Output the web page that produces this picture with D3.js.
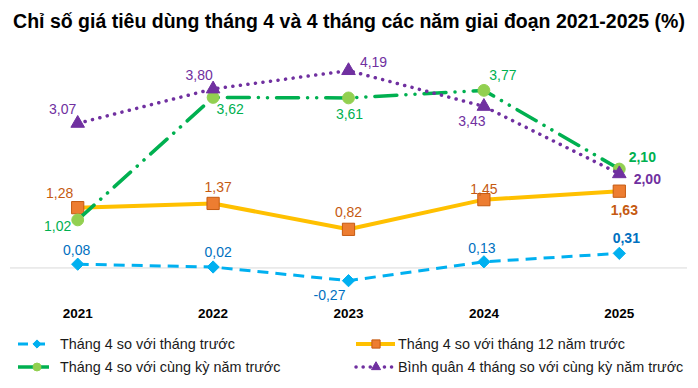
<!DOCTYPE html>
<html>
<head>
<meta charset="utf-8">
<script src="https://cdn.jsdelivr.net/npm/d3@7"></script>
<style>
  body { margin: 0; background: #fff; }
  svg { display: block; font-family: Arial, "Liberation Sans", sans-serif; }
</style>
</head>
<body>
<div id="chart"></div>
<script>
// data
const years = ["2021", "2022", "2023", "2024", "2025"];
const soThangTruoc = [0.08, 0.02, -0.27, 0.13, 0.31];
const soThang12 = [1.28, 1.37, 0.82, 1.45, 1.63];
const soCungKy = [1.02, 3.62, 3.61, 3.77, 2.10];
const binhQuan4Thang = [3.07, 3.80, 4.19, 3.43, 2.00];

const width = 698, height = 388;

// diamond as a square turned 45 degrees (d3's diamond is too narrow)
const diamond = {
  draw(context, size) {
    const r = Math.sqrt(size / 2);
    context.moveTo(0, -r);
    context.lineTo(r, 0);
    context.lineTo(0, r);
    context.lineTo(-r, 0);
    context.closePath();
  }
};

const series = [
  {name: "Tháng 4 so với tháng trước", values: soThangTruoc, line: "#00b0f0", width: 3,
   dash: "11 7", cap: "butt", marker: diamond, fill: "#00b0f0", stroke: "#00b0f0", size: 75,
   label: "#0070c0", offs: [[-1,-14],[5,-15],[-19,14],[-2,-14],[7,-15]]},
  {name: "Tháng 4 so với tháng 12 năm trước", values: soThang12, line: "#ffc000", width: 4,
   dash: null, cap: "round", marker: d3.symbolSquare, fill: "#ed7d31", stroke: "#c55a11", size: 150,
   label: "#c55a11", offs: [[-18,-15],[5,-16],[0,-17],[0,-11],[5,19]]},
  {name: "Tháng 4 so với cùng kỳ năm trước", values: soCungKy, line: "#00b050", width: 3.5,
   dash: "22 9 0.1 9 0.1 9", cap: "round", marker: d3.symbolCircle, fill: "#92d050", stroke: "#92d050", size: 110,
   label: "#00b050", offs: [[-20,6],[17,12],[1,16],[19,-15],[23,-12]]},
  {name: "Bình quân 4 tháng so với cùng kỳ năm trước", values: binhQuan4Thang, line: "#7030a0", width: 3.5,
   dash: "0.1 7.5", cap: "round", marker: d3.symbolTriangle, fill: "#7030a0", stroke: "#7030a0", size: 80,
   label: "#7030a0", offs: [[-15,-14],[-14,-14],[25,-9],[-12,15],[28,5]]}
];

const x = d3.scalePoint().domain(years).range([10, 687]).padding(0.5);
const y = d3.scaleLinear().domain([-0.5, 4.5]).range([291.5, 56]);

const fmt = v => d3.format(".2f")(v).replace(".", ",").replace("−", "-");

const svg = d3.select("#chart").append("svg")
    .attr("width", width)
    .attr("height", height);

svg.append("text")
    .attr("x", width / 2)
    .attr("y", 28)
    .attr("text-anchor", "middle")
    .attr("font-size", 19.5)
    .attr("font-weight", "bold")
    .attr("fill", "#000")
    .text("Chỉ số giá tiêu dùng tháng 4 và 4 tháng các năm giai đoạn 2021-2025 (%)");

// zero line
svg.append("line")
    .attr("x1", 10).attr("x2", 687)
    .attr("y1", y(0)).attr("y2", y(0))
    .attr("stroke", "#d9d9d9")
    .attr("stroke-width", 1);

// year labels
svg.append("g")
  .selectAll("text")
  .data(years)
  .join("text")
    .attr("x", d => x(d))
    .attr("y", 313)
    .attr("dy", "0.35em")
    .attr("text-anchor", "middle")
    .attr("font-size", 13.5)
    .attr("font-weight", "bold")
    .attr("fill", "#000")
    .text(d => d);

const line = d3.line().x((d, i) => x(years[i])).y(d => y(d));

for (const s of series) {
  svg.append("path")
      .datum(s.values)
      .attr("d", line)
      .attr("fill", "none")
      .attr("stroke", s.line)
      .attr("stroke-width", s.width)
      .attr("stroke-dasharray", s.dash)
      .attr("stroke-linecap", s.cap)
      .attr("stroke-linejoin", "round");

  svg.append("g")
    .selectAll("path")
    .data(s.values)
    .join("path")
      .attr("transform", (d, i) => `translate(${x(years[i])},${y(d)})`)
      .attr("d", d3.symbol(s.marker, s.size))
      .attr("fill", s.fill)
      .attr("stroke", s.stroke)
      .attr("stroke-width", 1);
}

for (const s of series) {
  svg.append("g")
    .selectAll("text")
    .data(s.values)
    .join("text")
      .attr("x", (d, i) => x(years[i]) + s.offs[i][0])
      .attr("y", (d, i) => y(d) + s.offs[i][1])
      .attr("dy", "0.35em")
      .attr("text-anchor", "middle")
      .attr("font-size", 14)
      .attr("font-weight", (d, i) => i === years.length - 1 ? "bold" : null)
      .attr("fill", s.label)
      .text(fmt);
}

// legend
const legendPos = [[18, 344], [356, 344], [18, 367], [356, 367]];
const legend = svg.append("g")
  .selectAll("g")
  .data(series)
  .join("g")
    .attr("transform", (d, i) => `translate(${legendPos[i][0]},${legendPos[i][1]})`);

legend.append("line")
    .attr("x1", 0).attr("x2", (d, i) => i % 2 ? 39 : 31)
    .attr("stroke", d => d.line)
    .attr("stroke-width", d => d.width)
    .attr("stroke-dasharray", (d, i) => i === 0 ? "10 7" : i === 3 ? "0.1 7" : null)
    .attr("stroke-linecap", (d, i) => i === 3 ? "round" : "butt");

legend.append("path")
    .attr("transform", (d, i) => `translate(${i % 2 ? 20 : 19},0)`)
    .attr("d", d => d3.symbol(d.marker, d.size * 0.45)())
    .attr("fill", d => d.fill)
    .attr("stroke", d => d.stroke);

legend.append("text")
    .attr("x", (d, i) => i % 2 ? 42 : 42)
    .attr("dy", "0.35em")
    .attr("font-size", 14.4)
    .attr("fill", "#1a1a1a")
    .text(d => d.name);
</script>
</body>
</html>
